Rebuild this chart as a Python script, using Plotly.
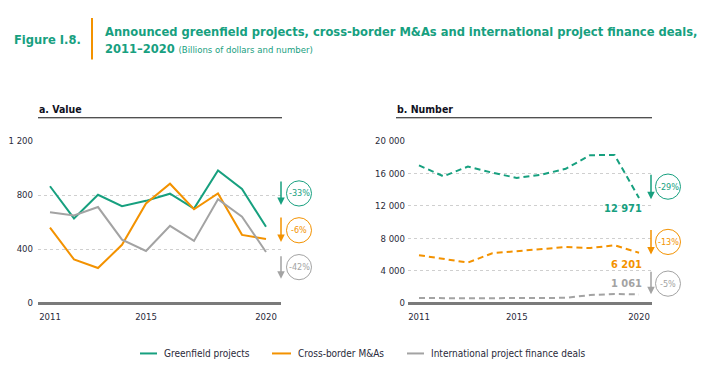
import plotly.graph_objects as go

# The page body has an 8px default margin; compensate so the picture lands at the window origin.
OFF = 8
W, H = 718 - OFF, 373 - OFF

years = list(range(2011, 2021))

# Value (billions of dollars)
green_value = [865, 627, 802, 718, 757, 810, 700, 982, 845, 565]
orange_value = [558, 323, 259, 431, 738, 884, 695, 812, 505, 474]
gray_value = [673, 649, 711, 469, 386, 572, 460, 769, 640, 378]

# Number of projects/deals
green_number = [17000, 15650, 16850, 16090, 15450, 15850, 16570, 18260, 18269, 12971]
orange_number = [5910, 5430, 4990, 6150, 6390, 6630, 6910, 6790, 7128, 6201]
gray_number = [620, 580, 590, 600, 620, 660, 640, 980, 1117, 1061]

value_ticks = [0, 400, 800, 1200]
value_tick_labels = ["0", "400", "800", "1 200"]
number_ticks = [0, 4000, 8000, 12000, 16000, 20000]
number_tick_labels = ["0", "4 000", "8 000", "12 000", "16 000", "20 000"]
x_ticks = [2011, 2015, 2020]
x_tick_labels = ["2011", "2015", "2020"]

value_changes = ["-33%", "-6%", "-42%"]
number_changes = ["-29%", "-13%", "-5%"]
number_last = ["12 971", "6 201", "1 061"]

series_names = ["Greenfield projects", "Cross-border M&As", "International project finance deals"]

GREEN = "#17a07f"
ORANGE = "#f39200"
GRAY = "#a3a3a3"
TEAL_TXT = "#17a07f"
DARK = "#2a2a3a"
FONT = "DejaVu Sans Condensed, DejaVu Sans, sans-serif"

def px(x):
    return (x - OFF) / W

def py(y):
    return 1 - (y - OFF) / H

colors = [GREEN, ORANGE, GRAY]

fig = go.Figure()
for vals, c, n in zip([green_value, orange_value, gray_value], colors, series_names):
    fig.add_trace(go.Scatter(x=years, y=vals, mode="lines", name=n,
                             line=dict(color=c, width=2), xaxis="x", yaxis="y",
                             showlegend=False))
for vals, c, n in zip([green_number, orange_number, gray_number], colors, series_names):
    fig.add_trace(go.Scatter(x=years, y=vals, mode="lines", name=n,
                             line=dict(color=c, width=2, dash="6px,4px"), xaxis="x2", yaxis="y2",
                             showlegend=False))

ydom = [py(306), py(139)]
common_y = dict(showgrid=True, gridcolor="#cfcfcf", griddash="dot", gridwidth=1,
                zeroline=True, zerolinecolor="#7a7a7a", zerolinewidth=2.5,
                showline=False, ticks="", tickfont=dict(family=FONT, size=9.5, color=DARK),
                fixedrange=True)
common_x = dict(showgrid=False, zeroline=False, showline=False, ticks="",
                tickvals=x_ticks, ticktext=x_tick_labels, ticklabelstandoff=6,
                tickfont=dict(family=FONT, size=9.5, color=DARK), fixedrange=True)

fig.update_layout(
    width=W, height=H,
    margin=dict(l=0, r=0, t=0, b=0),
    paper_bgcolor="white", plot_bgcolor="white",
    showlegend=False,
    hovermode=False,
    xaxis=dict(domain=[px(38), px(281)], range=[2010.5, 2020.625], anchor="y", **common_x),
    yaxis=dict(domain=ydom, range=[0, 1200], anchor="x", ticklabelstandoff=4,
               tickvals=value_ticks, ticktext=value_tick_labels, **common_y),
    xaxis2=dict(domain=[px(408), px(652)], range=[2010.55, 2020.53], anchor="y2", **common_x),
    yaxis2=dict(domain=ydom, range=[0, 20000], anchor="x2", ticklabelstandoff=2,
                tickvals=number_ticks, ticktext=number_tick_labels, **common_y),
)

shapes = []
annotations = []

# Header
annotations.append(dict(x=px(12), y=py(34), xref="paper", yref="paper", xanchor="left", yanchor="middle",
                        text="<b>Figure I.8.</b>", showarrow=False,
                        font=dict(family=FONT, size=12.8, color=TEAL_TXT)))
shapes.append(dict(type="line", xref="paper", yref="paper", x0=px(92), x1=px(92), y0=py(12), y1=py(55),
                   line=dict(color=ORANGE, width=2)))
annotations.append(dict(x=px(103), y=py(26), xref="paper", yref="paper", xanchor="left", yanchor="middle",
                        text="<b>Announced greenfield projects, cross-border M&As and international project finance deals,</b>",
                        showarrow=False, font=dict(family=FONT, size=12.8, color=TEAL_TXT)))
annotations.append(dict(x=px(103), y=py(44), xref="paper", yref="paper", xanchor="left", yanchor="middle",
                        text="<b>2011–2020</b> <span style='font-size:9.5px'>(Billions of dollars and number)</span>",
                        showarrow=False, font=dict(family=FONT, size=12.8, color=TEAL_TXT)))

# Panel titles
for x0, x1, t in [(38, 282, "a. Value"), (396, 652, "b. Number")]:
    annotations.append(dict(x=px(x0 - 1), y=py(106), xref="paper", yref="paper", xanchor="left", yanchor="middle",
                            text="<b>" + t + "</b>", showarrow=False,
                            font=dict(family=FONT, size=10.5, color="#111122")))
    shapes.append(dict(type="line", xref="paper", yref="paper", x0=px(x0), x1=px(x1), y0=py(115), y1=py(115),
                       line=dict(color="#111111", width=1)))

# Change markers: arrows + circles
def change_marker(ax_x, y_top, y_bot, cx, cy, text, color):
    annotations.append(dict(x=px(ax_x), y=py(y_bot), xref="paper", yref="paper",
                            ax=0, ay=-(y_bot - y_top), text="", showarrow=True,
                            arrowhead=2, arrowsize=1, arrowwidth=1.5, arrowcolor=color, standoff=0))
    r_x, r_y = 12.5, 13
    shapes.append(dict(type="circle", xref="paper", yref="paper",
                       x0=px(cx - r_x), x1=px(cx + r_x), y0=py(cy + r_y), y1=py(cy - r_y),
                       line=dict(color=color, width=1), fillcolor="rgba(0,0,0,0)"))
    annotations.append(dict(x=px(cx), y=py(cy), xref="paper", yref="paper", xanchor="center", yanchor="middle",
                            text=text, showarrow=False, font=dict(family=FONT, size=9, color=color)))

left_pos = [(180, 205, 193), (217, 243, 231), (257, 281, 269)]
for (yt, yb, cy), t, c in zip(left_pos, value_changes, colors):
    change_marker(281, yt, yb, 299, cy, t, c)

right_pos = [(173, 199, 186), (230, 256, 243), (273, 297, 286)]
for (yt, yb, cy), t, c in zip(right_pos, number_changes, colors):
    change_marker(651, yt, yb, 668, cy, t, c)

# Last values labels (right panel)
for yv, t, c in zip([209, 266, 286], number_last, colors):
    annotations.append(dict(x=px(644), y=py(yv), xref="paper", yref="paper", xanchor="right", yanchor="middle",
                            text="<b>" + t + "</b>", showarrow=False,
                            font=dict(family=FONT, size=11, color=c)))

# Legend
for (lx0, lx1, tx), n, c in zip([(140, 157, 162), (272, 291, 296), (407, 424, 429)], series_names, colors):
    shapes.append(dict(type="line", xref="paper", yref="paper", x0=px(lx0), x1=px(lx1), y0=py(358), y1=py(358),
                       line=dict(color=c, width=2)))
    annotations.append(dict(x=px(tx), y=py(358), xref="paper", yref="paper", xanchor="left", yanchor="middle",
                            text=n, showarrow=False, font=dict(family=FONT, size=10, color=DARK)))

fig.update_layout(shapes=shapes, annotations=annotations)
fig.write_html("out.html")
